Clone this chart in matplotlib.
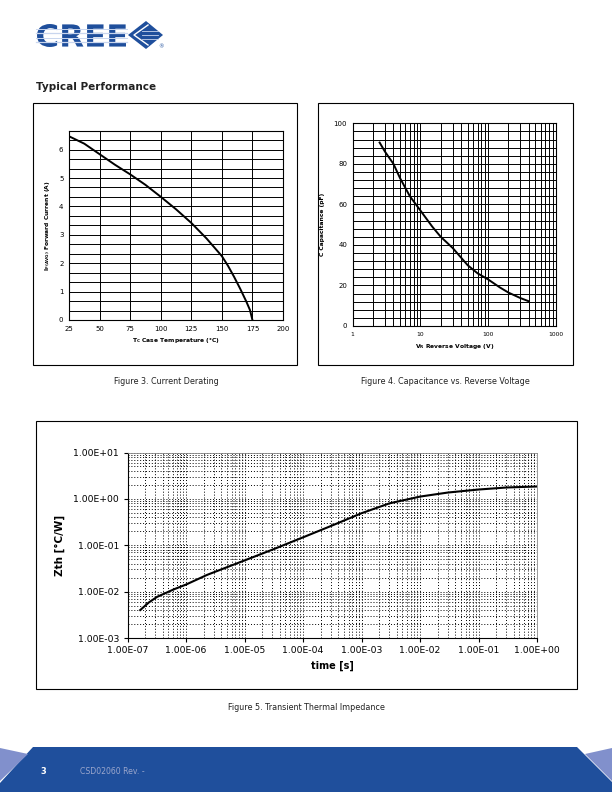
import numpy as np
import matplotlib
matplotlib.use("Agg")
import matplotlib.pyplot as plt
from matplotlib.patches import Rectangle, Polygon, PathPatch
from matplotlib.textpath import TextPath
from matplotlib.font_manager import FontProperties
from matplotlib.transforms import Affine2D
from matplotlib.ticker import FixedLocator, LogLocator, NullFormatter, FuncFormatter

# Figure 3: current derating
temp_c = [25, 37.5, 50, 62.5, 75, 87.5, 100, 112.5, 125, 137.5, 150, 155, 160,
          165, 170, 173, 175]
current_a = [6.47, 6.21, 5.84, 5.47, 5.13, 4.76, 4.34, 3.90, 3.42, 2.87, 2.25,
             1.91, 1.52, 1.10, 0.65, 0.35, 0.0]

# Figure 4: capacitance vs reverse voltage
volt_v = [2.5, 3, 4, 5, 7, 10, 15, 20, 30, 50, 70, 100, 150, 200, 300, 400]
cap_pf = [90.5, 86, 80, 73, 64, 57, 49, 44, 38.5, 30, 26, 23, 19, 16.5, 13.8, 12.2]

# Figure 5: transient thermal impedance
time_s = [1.65e-7, 2.3e-7, 3.2e-7, 6.2e-7, 1e-6, 2.3e-6, 1e-5, 3.2e-5, 1e-4, 3e-4,
          1e-3, 3e-3, 1e-2, 3e-2, 1e-1, 3e-1, 1.0]
zth = [0.0040, 0.0058, 0.0077, 0.0112, 0.0142, 0.023, 0.047, 0.083, 0.148, 0.26,
       0.49, 0.80, 1.12, 1.37, 1.59, 1.76, 1.85]

captions = ["Figure 3. Current Derating",
            "Figure 4. Capacitance vs. Reverse Voltage",
            "Figure 5. Transient Thermal Impedance"]

W, H = 612, 792
BLUE = "#1f4f9c"
LIGHT = "#8190cc"

fig = plt.figure(figsize=(W / 100, H / 100), dpi=100)
fig.patch.set_facecolor("white")


def fx(x):
    return x / W


def fy(y):
    return 1 - y / H


def axes_px(x0, y0, x1, y1):
    return fig.add_axes([fx(x0), fy(y1), (x1 - x0) / W, (y1 - y0) / H])


def box(x0, y0, x1, y1):
    fig.patches.append(Rectangle((fx(x0), fy(y1)), (x1 - x0) / W, (y1 - y0) / H,
                                 transform=fig.transFigure, fill=False,
                                 edgecolor="black", linewidth=0.8))


# ---- header / logo ----
tp = TextPath((0, 0), "CREE", size=1,
              prop=FontProperties(family="DejaVu Sans", weight="heavy"))
ext = tp.get_extents()
lx0, ly0, lx1, ly1 = 37, 24, 126, 47
tr = (Affine2D().translate(-ext.x0, -ext.y0)
      .scale((lx1 - lx0) / W / ext.width, (ly1 - ly0) / H / ext.height)
      .translate(fx(lx0), fy(ly1)))
fig.patches.append(PathPatch(tr.transform_path(tp), transform=fig.transFigure,
                             facecolor=BLUE, edgecolor="none"))
for yy, lw in [(28.5, 0.7), (33, 0.9), (37.5, 0.7), (42, 0.9)]:
    fig.lines.append(plt.Line2D([fx(36), fx(127)], [fy(yy), fy(yy)],
                                transform=fig.transFigure, color="#c9d6ee", lw=lw))
fig.patches.append(Polygon([(fx(128), fy(35)), (fx(146), fy(21)), (fx(163), fy(35)),
                            (fx(146), fy(49))], closed=True, transform=fig.transFigure,
                           facecolor=BLUE, edgecolor="none"))
fig.lines.append(plt.Line2D([fx(148), fx(134), fx(148)], [fy(25), fy(35), fy(45)],
                            transform=fig.transFigure, color="white", lw=1.0))
for yy in [31, 35, 39]:
    fig.lines.append(plt.Line2D([fx(142), fx(158)], [fy(yy), fy(yy)],
                                transform=fig.transFigure, color="#c9d6ee", lw=0.6))
fig.text(fx(158), fy(47), "®", fontsize=4, color=BLUE, ha="left", va="center")

fig.text(fx(36), fy(87), "Typical Performance", fontsize=7.5, fontweight="bold",
         color="#222222", ha="left", va="center")

# ---- chart boxes ----
box(32.5, 103, 297, 365)
box(318, 103, 573, 365)
box(36, 421, 577, 689)

# ---- Figure 3 ----
ax1 = axes_px(69, 130.7, 283, 320)
ax1.plot(temp_c, current_a, color="black", lw=1.4)
ax1.set_xlim(25, 200)
ax1.set_ylim(0, 20 / 3)
ax1.set_xticks(np.arange(25, 201, 25))
ax1.set_yticks(np.arange(0, 7, 1))
ax1.yaxis.set_minor_locator(FixedLocator(np.arange(0, 6.8, 1 / 3)))
ax1.grid(which="both", color="black", lw=0.7)
ax1.tick_params(which="both", length=0, labelsize=5, pad=4)
for s in ax1.spines.values():
    s.set_linewidth(0.8)
ax1.set_xlabel(r"$\mathbf{T_C}$ Case Temperature (°C)", fontsize=4.3,
               fontweight="bold", labelpad=3)
ax1.set_ylabel(r"$\mathbf{I_{F(AVG)}}$ Forward Current (A)", fontsize=4.3,
               fontweight="bold", labelpad=5)

# ---- Figure 4 ----
ax2 = axes_px(352.7, 123.3, 555.7, 326)
ax2.plot(volt_v, cap_pf, color="black", lw=1.4)
ax2.set_xscale("log")
ax2.set_xlim(1, 1000)
ax2.set_ylim(0, 100)
ax2.set_xticks([1, 10, 100, 1000])
ax2.set_xticklabels(["1", "10", "100", "1000"])
ax2.xaxis.set_minor_locator(LogLocator(base=10, subs=np.arange(2, 10)))
ax2.xaxis.set_minor_formatter(NullFormatter())
ax2.set_yticks(np.arange(0, 101, 20))
ax2.yaxis.set_minor_locator(FixedLocator(np.arange(0, 101, 4)))
ax2.grid(which="both", color="black", lw=0.7)
ax2.tick_params(which="both", length=0, labelsize=5, pad=4)
ax2.tick_params(axis="x", labelsize=4.3)
for s in ax2.spines.values():
    s.set_linewidth(0.8)
ax2.set_xlabel(r"$\mathbf{V_R}$ Reverse Voltage (V)", fontsize=4.3,
               fontweight="bold", labelpad=4)
ax2.set_ylabel("C Capacitance (pF)", fontsize=4.3, fontweight="bold", labelpad=6)

fig.text(fx(166), fy(382), captions[0], fontsize=5.8, ha="center", va="center",
         color="#222222")
fig.text(fx(445), fy(382), captions[1], fontsize=5.8, ha="center", va="center",
         color="#222222")

# ---- Figure 5 ----
ax3 = axes_px(127.5, 452.5, 537, 638)
ax3.plot(time_s, zth, color="black", lw=1.5)
ax3.set_xscale("log")
ax3.set_yscale("log")
ax3.set_xlim(1e-7, 1)
ax3.set_ylim(1e-3, 10)
sci = FuncFormatter(lambda v, p: "%.2E" % v)
ax3.xaxis.set_major_locator(LogLocator(base=10, numticks=20))
ax3.yaxis.set_major_locator(LogLocator(base=10, numticks=20))
ax3.xaxis.set_major_formatter(sci)
ax3.yaxis.set_major_formatter(sci)
for a in (ax3.xaxis, ax3.yaxis):
    a.set_minor_locator(LogLocator(base=10, subs=np.arange(2, 10), numticks=20))
    a.set_minor_formatter(NullFormatter())
ax3.grid(which="both", color="black", lw=0.7, linestyle=(0, (1, 2)))
ax3.tick_params(which="major", length=3, width=0.8, labelsize=6.7, pad=3,
                direction="out")
ax3.tick_params(which="minor", length=0)
ax3.spines["top"].set_color("#888888")
ax3.spines["right"].set_color("#888888")
ax3.spines["top"].set_linewidth(0.6)
ax3.spines["right"].set_linewidth(0.6)
ax3.set_xlabel("time [s]", fontsize=7, fontweight="bold", labelpad=4)
ax3.set_ylabel("Zth [°C/W]", fontsize=7.5, fontweight="bold", labelpad=6)

fig.text(fx(306), fy(707), captions[2], fontsize=5.8, ha="center", va="center",
         color="#222222")

# ---- footer ----
fig.patches.append(Polygon([(fx(33), fy(747)), (fx(577), fy(747)), (fx(612), fy(782)),
                            (fx(612), fy(792)), (fx(0), fy(792)), (fx(0), fy(783))],
                           closed=True, transform=fig.transFigure,
                           facecolor=BLUE, edgecolor="none"))
fig.patches.append(Polygon([(fx(0), fy(748)), (fx(28), fy(754)), (fx(0), fy(781))],
                           closed=True, transform=fig.transFigure,
                           facecolor=LIGHT, edgecolor="none"))
fig.patches.append(Polygon([(fx(585), fy(754)), (fx(612), fy(748)), (fx(612), fy(781))],
                           closed=True, transform=fig.transFigure,
                           facecolor=LIGHT, edgecolor="none"))
fig.text(fx(40), fy(771), "3", fontsize=6, fontweight="bold", color="white",
         ha="left", va="center")
fig.text(fx(80), fy(771), "CSD02060 Rev. -", fontsize=5.6, color="#9aa6cc",
         ha="left", va="center")

fig.savefig("out.png", dpi=100)
